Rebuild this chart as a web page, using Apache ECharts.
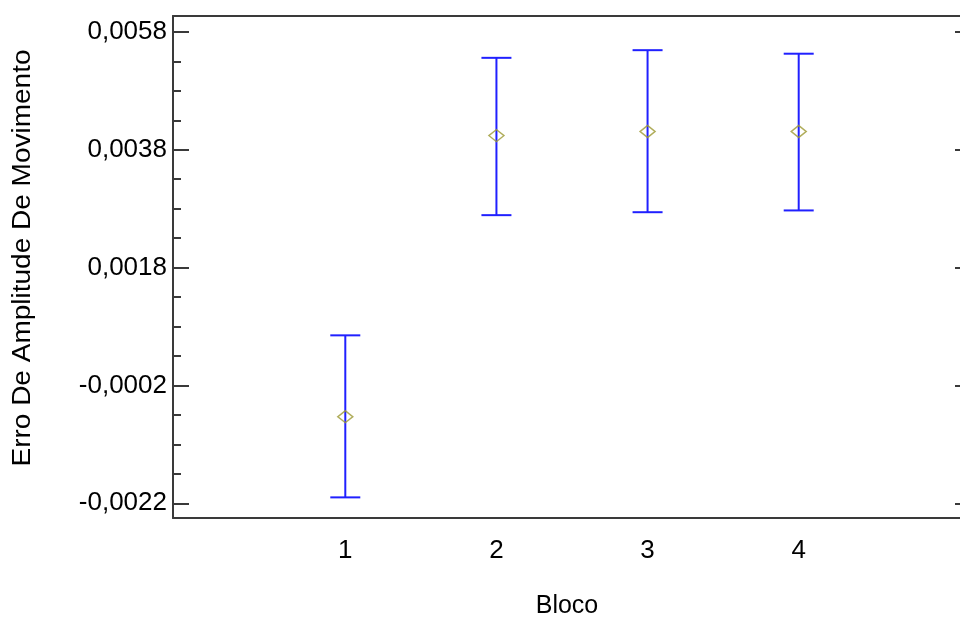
<!DOCTYPE html>
<html>
<head>
<meta charset="utf-8">
<script src="https://cdn.jsdelivr.net/npm/echarts@6/dist/echarts.min.js"></script>
<style>
    html, body { margin: 0; padding: 0; background: #fff; }
    #chart { width: 960px; height: 617px; }
</style>
</head>
<body>
<div id="chart"></div>
<script>
// data
var blocos = [1, 2, 3, 4];
var medias = [-0.00073, 0.00404, 0.00411, 0.00411];
var inferior = [-0.0021, 0.00269, 0.00274, 0.00277];
var superior = [0.00065, 0.00536, 0.00549, 0.00543];

// tick positions on the y axis
var yMajor = [-0.0022, -0.0002, 0.0018, 0.0038, 0.0058];
var yMinor = [-0.0017, -0.0012, -0.0007, 0.0003, 0.0008, 0.0013,
              0.0023, 0.0028, 0.0033, 0.0043, 0.0048, 0.0053];

var fonte = '"Liberation Sans", Arial, sans-serif';
var yMin = -0.00245, yMax = 0.00607;
var xMin = -0.14, xMax = 5.14;

var myChart = echarts.init(document.getElementById('chart'));

var barras = blocos.map(function (b, i) {
    return [b, inferior[i], superior[i]];
});
var pontos = blocos.map(function (b, i) {
    return [b, medias[i]];
});

function fmt(v) {
    return v.toFixed(4).replace('.', ',');
}

var lineStyle = { color: '#3a3a3a', width: 2 };
var tickStyle = { color: '#3a3a3a', width: 2 };

// same box for both grids, the second one only carries the minor ticks
var caixa = {
    left: 173,
    top: 16,
    width: 798,
    height: 502,
    outerBoundsMode: 'none',
    containLabel: false,
    show: false
};

var option = {
    animation: false,
    backgroundColor: '#fff',
    grid: [caixa, Object.assign({}, caixa)],
    xAxis: [
        {
            type: 'value',
            gridIndex: 0,
            position: 'bottom',
            min: xMin,
            max: xMax,
            axisLine: { show: true, onZero: false, lineStyle: lineStyle },
            axisTick: { show: false },
            splitLine: { show: false },
            axisLabel: {
                customValues: blocos,
                color: '#000',
                fontFamily: fonte,
                fontSize: 26,
                margin: 20
            }
        },
        {
            type: 'value',
            gridIndex: 0,
            position: 'top',
            min: xMin,
            max: xMax,
            axisLine: { show: true, onZero: false, lineStyle: lineStyle },
            axisTick: { show: false },
            splitLine: { show: false },
            axisLabel: { show: false }
        },
        {
            type: 'value',
            gridIndex: 1,
            min: xMin,
            max: xMax,
            show: false
        }
    ],
    yAxis: [
        {
            type: 'value',
            gridIndex: 0,
            position: 'left',
            min: yMin,
            max: yMax,
            axisLine: { show: true, onZero: false, lineStyle: lineStyle },
            axisTick: {
                show: true, inside: true, length: 16,
                customValues: yMajor,
                lineStyle: tickStyle
            },
            splitLine: { show: false },
            axisLabel: {
                customValues: yMajor,
                formatter: fmt,
                color: '#000',
                fontFamily: fonte,
                fontSize: 26,
                margin: 6
            }
        },
        {
            type: 'value',
            gridIndex: 0,
            position: 'right',
            min: yMin,
            max: yMax,
            axisLine: { show: true, onZero: false, lineStyle: lineStyle },
            axisTick: {
                show: true, inside: true, length: 16,
                customValues: yMajor,
                lineStyle: tickStyle
            },
            splitLine: { show: false },
            axisLabel: { show: false }
        },
        {
            type: 'value',
            gridIndex: 1,
            position: 'left',
            min: yMin,
            max: yMax,
            axisLine: { show: false, onZero: false },
            axisTick: {
                show: true, inside: true, length: 8,
                customValues: yMinor,
                lineStyle: tickStyle
            },
            splitLine: { show: false },
            axisLabel: { show: false }
        }
    ],
    graphic: [
        {
            type: 'text',
            x: 23,
            y: 258,
            rotation: Math.PI / 2,
            scaleX: 1.12,
            style: {
                text: 'Erro De Amplitude De Movimento',
                fill: '#000',
                font: '25px ' + fonte,
                textAlign: 'center',
                textVerticalAlign: 'middle'
            }
        },
        {
            type: 'text',
            x: 567,
            y: 606,
            style: {
                text: 'Bloco',
                fill: '#000',
                font: '25px ' + fonte,
                textAlign: 'center',
                textVerticalAlign: 'middle'
            }
        }
    ],
    series: [
        {
            type: 'custom',
            xAxisIndex: 0,
            yAxisIndex: 0,
            data: barras,
            renderItem: function (params, api) {
                var x = api.value(0);
                var lo = api.coord([x, api.value(1)]);
                var hi = api.coord([x, api.value(2)]);
                var w = 15;
                var st = { stroke: '#2020ff', lineWidth: 2 };
                return {
                    type: 'group',
                    children: [
                        { type: 'line', shape: { x1: lo[0], y1: lo[1], x2: hi[0], y2: hi[1] }, style: st },
                        { type: 'line', shape: { x1: lo[0] - w, y1: lo[1], x2: lo[0] + w, y2: lo[1] }, style: st },
                        { type: 'line', shape: { x1: hi[0] - w, y1: hi[1], x2: hi[0] + w, y2: hi[1] }, style: st }
                    ]
                };
            },
            z: 2
        },
        {
            type: 'scatter',
            xAxisIndex: 0,
            yAxisIndex: 0,
            data: pontos,
            symbol: 'diamond',
            symbolSize: [15, 12],
            itemStyle: {
                color: 'rgba(0,0,0,0)',
                borderColor: '#9c9832',
                borderWidth: 1.5
            },
            z: 3
        }
    ]
};

myChart.setOption(option);
window.addEventListener('resize', function () {
    myChart.resize();
});
</script>
</body>
</html>
